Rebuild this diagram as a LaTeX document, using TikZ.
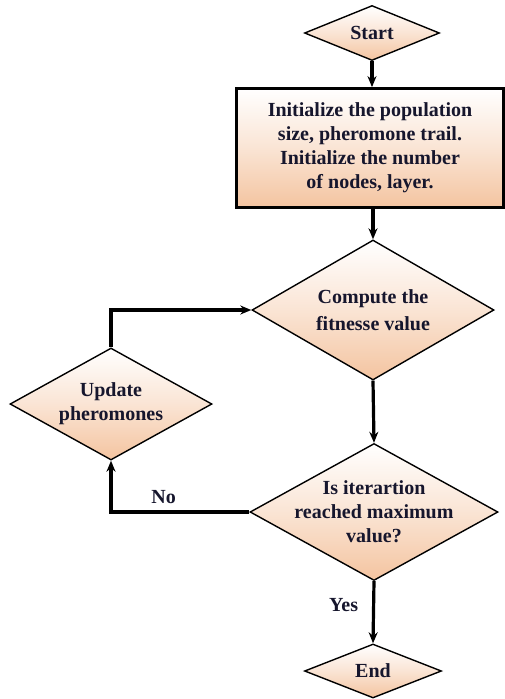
\documentclass[tikz,border=0pt]{standalone}
\usepackage{fontspec}
\setmainfont{Liberation Serif}
\usetikzlibrary{shapes.geometric,arrows.meta,calc}
\definecolor{peach}{RGB}{244,196,160}
\definecolor{inkc}{RGB}{22,22,45}
\tikzset{
  dia/.style={diamond, draw=black, line width=1.4pt, inner sep=0pt, top color=white, bottom color=peach, middle color=peach!45},
  boxst/.style={rectangle, draw=black, line width=2.8pt, inner sep=0pt, top color=white, bottom color=peach, middle color=peach!45},
  txt/.style={font=\fontsize{20}{24}\selectfont\bfseries, text=inkc, align=center, inner sep=0pt},
  conn/.style={line width=3.2pt, -{Stealth[length=11pt,width=9pt]}},
  lbl/.style={font=\fontsize{20}{24}\selectfont\bfseries, text=inkc, inner sep=0pt}
}
\begin{document}
\begin{tikzpicture}[x=1pt,y=-1pt]
\useasboundingbox (0,0) rectangle (505,699);
\node[dia, minimum width=135pt, minimum height=55pt] (start) at (372,33) {};
\node[txt] at (start) {Start};
\node[boxst, minimum width=267pt, minimum height=119pt] (init) at (370,148) {};
\node[txt] at (init) {Initialize the population\\size, pheromone trail.\\Initialize the number\\of nodes, layer.};
\node[dia, minimum width=242pt, minimum height=140pt] (comp) at (373,310) {};
\node[txt, font=\fontsize{20}{27}\selectfont\bfseries] at (comp) {Compute the\\fitnesse value};
\node[dia, minimum width=248pt, minimum height=137pt] (iter) at (374,512) {};
\node[txt] at (iter) {Is iterartion\\reached maximum\\value?};
\node[dia, minimum width=202pt, minimum height=112pt] (upd) at (111,404) {};
\node[txt] at (upd) {Update\\pheromones};
\node[dia, minimum width=137pt, minimum height=54pt] (fin) at (373,671) {};
\node[txt] at (fin) {End};

\draw[conn] (start.south) -- (start.south |- init.north);
\draw[conn] (comp.north |- init.south) -- (comp.north);
\draw[conn] (comp.south) -- (iter.north);
\draw[conn] (iter.south) -- node[lbl, left=14pt, pos=0.38] (yes) {Yes} (fin.north);
\draw[conn] (iter.west) -- node[lbl, above=7pt, pos=0.62] (no) {No} (iter.west -| upd.south) -- (upd.south);
\draw[conn] (upd.north) -- (upd.north |- comp.west) -- (comp.west);
\end{tikzpicture}
\end{document}
